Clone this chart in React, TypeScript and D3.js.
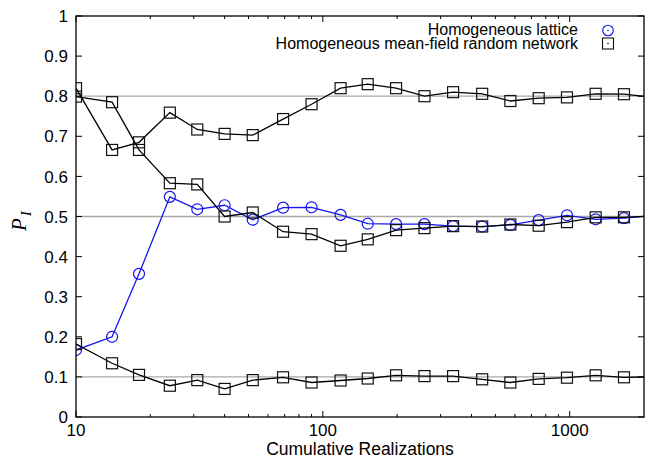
import * as d3 from 'd3';

// cumulative realizations (the last one sits past the axis end, so the lines run out to the border)
const realizations = [10, 14, 18, 24, 31, 40, 52, 69, 90, 118, 152, 198, 258, 337, 442, 575, 749, 975, 1274, 1659, 2160];

const lattice = [0.167, 0.200, 0.357, 0.549, 0.518, 0.528, 0.492, 0.522, 0.523, 0.504, 0.482, 0.481, 0.481, 0.476, 0.475, 0.479, 0.491, 0.503, 0.493, 0.496, 0.502];

// three runs of the mean-field random network
const networkHigh = [0.820, 0.666, 0.685, 0.759, 0.717, 0.706, 0.703, 0.743, 0.780, 0.820, 0.830, 0.820, 0.800, 0.810, 0.806, 0.788, 0.795, 0.797, 0.806, 0.805, 0.797];
const networkMid = [0.799, 0.785, 0.666, 0.583, 0.580, 0.500, 0.510, 0.462, 0.456, 0.427, 0.443, 0.466, 0.471, 0.476, 0.475, 0.480, 0.477, 0.486, 0.498, 0.498, 0.501];
const networkLow = [0.182, 0.134, 0.105, 0.078, 0.092, 0.070, 0.092, 0.099, 0.086, 0.091, 0.096, 0.104, 0.102, 0.102, 0.094, 0.086, 0.095, 0.098, 0.104, 0.099, 0.100];

const refLines = [0.8, 0.5, 0.1];
const yTicks = [0, 0.1, 0.2, 0.3, 0.4, 0.5, 0.6, 0.7, 0.8, 0.9, 1];
const xMajor = [10, 100, 1000];
const xMinor = [20, 30, 40, 50, 60, 70, 80, 90, 200, 300, 400, 500, 600, 700, 800, 900];

const legendLabels = ['Homogeneous lattice', 'Homogeneous mean-field random network'];

const width = 654;
const height = 459;
const marginLeft = 76;
const marginRight = 10;
const marginTop = 16;
const marginBottom = 42;
const blue = '#1414f0';
const font = '"Liberation Sans", Arial, Helvetica, sans-serif';

export default function App() {
  const x = d3.scaleLog().domain([10, 2000]).range([marginLeft, width - marginRight]);
  const y = d3.scaleLinear().domain([0, 1]).range([height - marginBottom, marginTop]);

  const line = d3.line<number>()
    .x((d, i) => x(realizations[i]))
    .y(d => y(d));

  const x0 = x.range()[0];
  const x1 = x.range()[1];
  const y0 = y.range()[0];
  const y1 = y.range()[1];

  const inDomain = (i: number) => realizations[i] <= 2000;

  const squares = (vals: number[], key: string) =>
    vals.map((v, i) => inDomain(i) ? (
      <rect key={key + i} x={x(realizations[i]) - 5.5} y={y(v) - 5.5} width={11} height={11}
        fill="none" stroke="#111" strokeWidth={1.2} />
    ) : null);

  return (
    <svg width={width} height={height} style={{ position: 'absolute', left: 0, top: 0, background: '#fff' }}
      fontFamily={font}>
      <defs>
        <clipPath id="plot">
          <rect x={x0} y={y1} width={x1 - x0} height={y0 - y1} />
        </clipPath>
      </defs>

      {/* reference levels */}
      {refLines.map(v => (
        <line key={'r' + v} x1={x0} x2={x1} y1={y(v)} y2={y(v)} stroke="#a8a8a8" strokeWidth={1.3} />
      ))}

      {/* ticks, mirrored on all sides */}
      {yTicks.map(t => (
        <g key={'yt' + t}>
          <line x1={x0} x2={x0 + 6} y1={y(t)} y2={y(t)} stroke="#000" />
          <line x1={x1} x2={x1 - 6} y1={y(t)} y2={y(t)} stroke="#000" />
          <text x={x0 - 8} y={y(t)} dy="0.36em" textAnchor="end" fontSize={17}>{d3.format('')(t)}</text>
        </g>
      ))}
      {xMajor.map(t => (
        <g key={'xt' + t}>
          <line x1={x(t)} x2={x(t)} y1={y0} y2={y0 - 6} stroke="#000" />
          <line x1={x(t)} x2={x(t)} y1={y1} y2={y1 + 6} stroke="#000" />
          <text x={x(t)} y={436} textAnchor="middle" fontSize={17}>{t}</text>
        </g>
      ))}
      {xMinor.map(t => (
        <g key={'xm' + t}>
          <line x1={x(t)} x2={x(t)} y1={y0} y2={y0 - 3} stroke="#000" />
          <line x1={x(t)} x2={x(t)} y1={y1} y2={y1 + 3} stroke="#000" />
        </g>
      ))}

      <g clipPath="url(#plot)">
        <path d={line(lattice) ?? ''} fill="none" stroke={blue} strokeWidth={1.3} />
        {lattice.map((v, i) => inDomain(i) ? (
          <circle key={'c' + i} cx={x(realizations[i])} cy={y(v)} r={5.5} fill="none" stroke={blue} strokeWidth={1.2} />
        ) : null)}
        {[networkHigh, networkMid, networkLow].map((s, k) => (
          <path key={'n' + k} d={line(s) ?? ''} fill="none" stroke="#000" strokeWidth={1.3} />
        ))}
        {squares(networkHigh, 'h')}
        {squares(networkMid, 'm')}
        {squares(networkLow, 'l')}
      </g>

      {/* border */}
      <rect x={x0} y={y1} width={x1 - x0} height={y0 - y1} fill="none" stroke="#000" strokeWidth={1.3} />

      {/* legend */}
      <text x={578} y={35} textAnchor="end" fontSize={16}>{legendLabels[0]}</text>
      <text x={578} y={48.5} textAnchor="end" fontSize={16}>{legendLabels[1]}</text>
      <circle cx={608} cy={30.5} r={5.3} fill="none" stroke={blue} strokeWidth={1.1} />
      <circle cx={608} cy={30.5} r={0.8} fill={blue} />
      <rect x={602.5} y={38} width={11} height={11} fill="none" stroke="#111" strokeWidth={1.1} />
      <rect x={607.3} y={42.8} width={1.4} height={1.4} fill="#111" />

      {/* axis titles */}
      <text x={(x0 + x1) / 2} y={455} textAnchor="middle" fontSize={17.5}>Cumulative Realizations</text>
      <text transform="translate(26,231) rotate(-90)" fontFamily='"Liberation Serif", "Times New Roman", serif'
        fontStyle="italic" fontSize={21}>
        P<tspan dx="2" dy="5" fontSize={15}>I</tspan>
      </text>
    </svg>
  );
}
